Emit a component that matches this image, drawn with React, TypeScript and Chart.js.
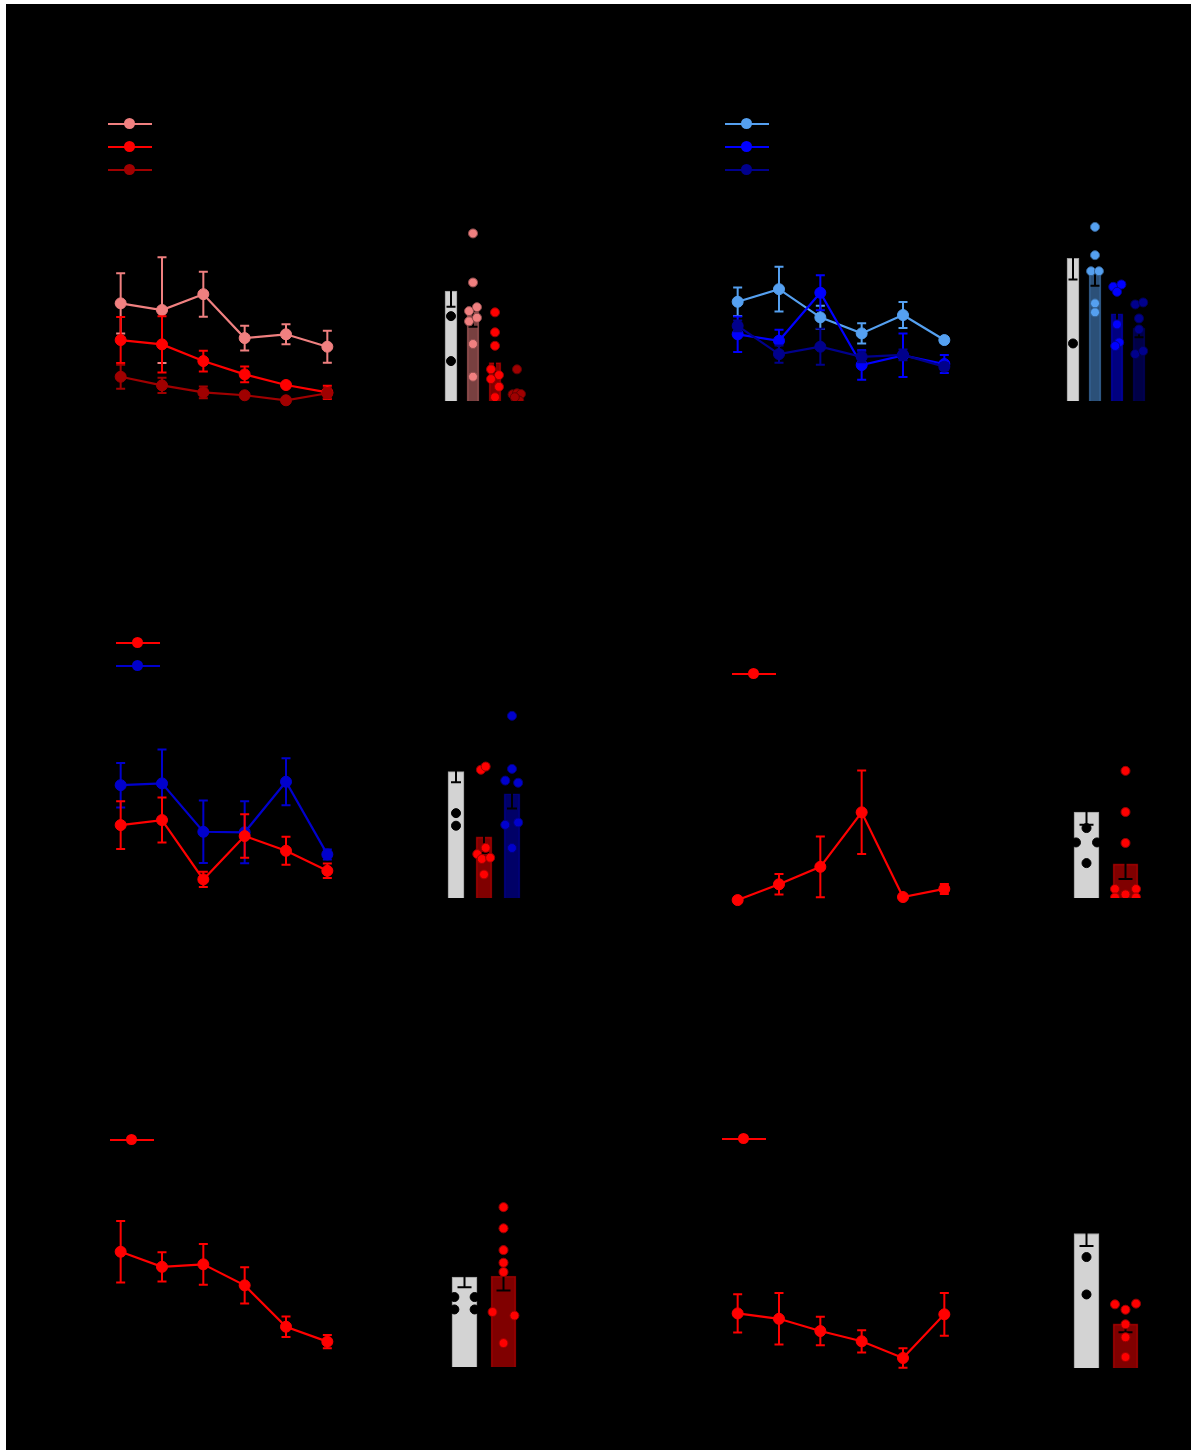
import React, { useEffect, useRef } from "react";
import { Chart, registerables } from "chart.js";

Chart.register(...registerables);

const FONT = "'Liberation Sans', Arial, sans-serif";

// ---------------- shared tick labels ----------------
const timeLabels = ["1", "2", "3", "4", "5", "6"];
const yTicks = [0, 20, 40, 60, 80, 100];

// ---------------- Panel A (reds) ----------------
const aLegend = ["Dose 1", "Dose 2", "Dose 3"];
const aPinkLine = [59.3, 55.6, 64.4, 40.0, 42.1, 35.2];
const aPinkSem = [16.7, 29.4, 12.5, 6.9, 5.6, 8.9];
const aRedLine = [38.9, 36.5, 27.2, 19.8, 13.9, 9.8];
const aRedSem = [12.8, 15.6, 5.8, 4.4, 1.1, 3.7];
const aDarkLine = [18.5, 13.7, 9.8, 8.2, 5.4, 9.3];
const aDarkSem = [6.7, 4.2, 3.3, 1.0, 1.0, 2.8];
const aBarLabels = ["Ctrl", "D1", "D2", "D3"];
const aBarMeans = [61.1, 49.6, 21.3, 5.3];
const aBarSem = [8.7, 8.3, 5.6, 2.5];
const aCtrlPts = [47.2, 22.2];
const aCtrlJit = [0, 0];
const aPinkPts = [93.2, 65.9, 50.0, 52.2, 44.3, 46.3, 31.7, 13.5];
const aPinkJit = [0, 0, -0.18, 0.18, -0.18, 0.18, 0, 0];
const aRedPts = [49.3, 38.2, 30.7, 17.6, 14.4, 12.2, 7.9, 2.1];
const aRedJit = [0, 0, 0, -0.18, 0.18, -0.18, 0.18, 0];
const aDarkPts = [17.6, 3.7, 4.3, 3.9, 0.2, 2.1];
const aDarkJit = [0, -0.2, 0, 0.18, 0.1, -0.1];

// ---------------- Panel B (blues) ----------------
const bLegend = ["Dose 1", "Dose 2", "Dose 3"];
const bLightLine = [60.2, 67.2, 51.5, 42.6, 52.8, 38.9];
const bLightSem = [7.9, 12.4, 6.5, 5.6, 7.2, 1.7];
const bBlueLine = [42.1, 38.5, 65.2, 25.0, 30.4, 25.6];
const bBlueSem = [9.9, 6.1, 9.7, 8.2, 12.1, 5.0];
const bNavyLine = [46.8, 31.1, 35.2, 29.6, 30.6, 24.1];
const bNavySem = [3.0, 4.8, 10.0, 3.0, 3.0, 2.0];
const bBarLabels = ["Ctrl", "D1", "D2", "D3"];
const bBarMeans = [79.3, 71.2, 48.5, 40.5];
const bBarSem = [11.7, 7.1, 6.1, 5.0];
const bCtrlPts = [32.0];
const bCtrlJit = [0];
const bLightPts = [96.8, 81.1, 72.2, 72.2, 54.3, 49.3];
const bLightJit = [0, 0, -0.18, 0.18, 0, 0];
const bBluePts = [63.5, 64.8, 60.7, 42.6, 32.6, 30.6];
const bBlueJit = [-0.17, 0.2, 0, 0, 0.1, -0.08];
const bNavyPts = [53.7, 54.8, 45.9, 39.8, 26.1, 27.8];
const bNavyJit = [-0.17, 0.19, 0, 0, -0.17, 0.19];

// ---------------- Panel C (red vs blue) ----------------
const cLegend = ["Treatment 1", "Treatment 2"];
const cRedLine = [46.1, 48.9, 15.9, 40.0, 31.8, 20.7];
const cRedSem = [13.3, 12.5, 4.2, 12.1, 7.8, 4.0];
const cBlueLine = [68.3, 69.3, 42.4, 42.1, 70.2, 29.8];
const cBlueSem = [12.4, 18.9, 17.4, 17.2, 13.1, 2.8];
const cBarLabels = ["Ctrl", "T1", "T2"];
const cBarMeans = [70.3, 34.0, 58.0];
const cBarSem = [5.9, 9.0, 8.2];
const cCtrlPts = [47.2, 40.2];
const cCtrlJit = [0, 0];
const cRedPts = [71.3, 73.1, 24.4, 27.9, 21.7, 22.4, 13.1];
const cRedJit = [-0.11, 0.06, -0.24, 0.06, -0.08, 0.22, 0];
const cBluePts = [101.3, 71.8, 65.3, 64.1, 40.7, 42.0, 27.8];
const cBlueJit = [0, 0, -0.24, 0.22, -0.24, 0.22, 0];

// ---------------- Panel D ----------------
const dLegend = ["Treatment"];
const dRedLine = [4.4, 13.2, 22.9, 53.2, 6.1, 10.6];
const dRedSem = [1.0, 5.7, 16.9, 23.2, 1.0, 2.8];
const dBarLabels = ["Ctrl", "T"];
const dBarMeans = [47.8, 19.0];
const dBarSem = [7.0, 8.5];
const dCtrlPts = [38.9, 30.9, 30.9, 19.4];
const dCtrlJit = [0, -0.27, 0.27, 0];
const dRedPts = [70.7, 47.8, 30.6, 5.0, 5.0, 2.0, 0.3, 0.3];
const dRedJit = [0, 0, 0, -0.27, 0.27, 0, -0.27, 0.27];

// ---------------- Panel E ----------------
const eLegend = ["Treatment"];
const eRedLine = [69.1, 60.7, 62.1, 50.4, 27.4, 19.1];
const eRedSem = [17.1, 8.1, 11.3, 10.1, 5.7, 3.7];
const eBarLabels = ["Ctrl", "T"];
const eBarMeans = [50.0, 50.6];
const eBarSem = [5.6, 8.0];
const eCtrlPts = [38.9, 38.9, 32.0, 32.0];
const eCtrlJit = [-0.26, 0.26, -0.26, 0.26];
const eRedPts = [88.9, 77.1, 65.0, 58.0, 52.8, 30.6, 28.6, 13.3];
const eRedJit = [0, 0, 0, 0, 0, -0.28, 0.28, 0];

// ---------------- Panel F ----------------
const fLegend = ["Treatment"];
const fRedLine = [34.8, 31.8, 25.0, 19.3, 10.0, 34.3];
const fRedSem = [10.6, 14.3, 7.9, 6.2, 5.4, 11.9];
const fBarLabels = ["Ctrl", "T"];
const fBarMeans = [74.8, 24.5];
const fBarSem = [7.0, 4.6];
const fCtrlPts = [61.7, 40.9];
const fCtrlJit = [0, 0];
const fRedPts = [35.4, 35.8, 32.4, 24.3, 17.1, 6.1];
const fRedJit = [-0.27, 0.27, 0, 0, 0, 0];

// ---------------- colours ----------------
const PINK = "#f08080";
const RED = "#ff0000";
const DARKRED = "#a00000";
const LIGHTBLUE = "#55a0f0";
const BLUE = "#0000ff";
const NAVY = "#00008c";
const MBLUE = "#0000cd";
const GRAY = "#d3d3d3";
const half = (hex: string) => {
  const n = parseInt(hex.slice(1), 16);
  return `rgba(${(n >> 16) & 255},${(n >> 8) & 255},${n & 255},0.5)`;
};
const shade = (hex: string, f: number) => {
  const n = parseInt(hex.slice(1), 16);
  return `rgb(${Math.round(((n >> 16) & 255) * f)},${Math.round(((n >> 8) & 255) * f)},${Math.round((n & 255) * f)})`;
};

// ---------------- layout constants ----------------
const YW = 50;
const XH = 40;
const PT = 10;
const PR = 10;
const PLOT_H = 198; // 0..110
const Y_MAX = 110;

// ---------------- error bar plugin ----------------
function drawErrorBars(chart: any, index: number) {
  const ds = chart.data.datasets[index];
  const err: number[] = ds.errorBars;
  const xs = chart.scales.x;
  const ys = chart.scales.y;
  const ctx = chart.ctx;
  const cap = (ds.capWidth || 8) / 2;
  ctx.save();
  ctx.strokeStyle = ds.errorColor || "#000";
  ctx.lineWidth = ds.errorWidth || 2;
  ds.data.forEach((p: any, i: number) => {
    const e = err[i];
    if (e == null) return;
    const x = xs.getPixelForValue(p.x);
    const y1 = ys.getPixelForValue(p.y + e);
    const y2 = ys.getPixelForValue(p.y - e);
    ctx.beginPath();
    ctx.moveTo(x, y1);
    ctx.lineTo(x, y2);
    ctx.moveTo(x - cap, y1);
    ctx.lineTo(x + cap, y1);
    ctx.moveTo(x - cap, y2);
    ctx.lineTo(x + cap, y2);
    ctx.stroke();
  });
  ctx.restore();
}

const errorBarPlugin = {
  id: "errorBars",
  beforeDatasetDraw(chart: any, args: any) {
    const ds = chart.data.datasets[args.index];
    if (ds.errorBars && ds.errorLayer !== "after") drawErrorBars(chart, args.index);
  },
  afterDatasetDraw(chart: any, args: any) {
    const ds = chart.data.datasets[args.index];
    if (ds.errorBars && ds.errorLayer === "after") drawErrorBars(chart, args.index);
  },
};

function baseOptions(labels: string[]) {
  return {
    responsive: false,
    animation: false,
    devicePixelRatio: 1,
    events: [],
    layout: { padding: { top: PT, right: PR, left: 0, bottom: 0 }, autoPadding: false },
    plugins: { legend: { display: false }, tooltip: { enabled: false }, title: { display: false } },
    scales: {
      x: {
        type: "linear",
        min: -0.5,
        max: labels.length - 0.5,
        offset: false,
        grid: { display: false, offset: false },
        border: { color: "#000", width: 1.5 },
        afterFit: (s: any) => {
          s.height = XH;
        },
        afterBuildTicks: (s: any) => {
          s.ticks = labels.map((_, i) => ({ value: i }));
        },
        ticks: {
          color: "#000",
          autoSkip: false,
          maxRotation: 0,
          font: { family: FONT, size: 12 },
          callback: (v: any) => labels[v] ?? "",
        },
      },
      y: {
        type: "linear",
        min: 0,
        max: Y_MAX,
        grid: { display: false },
        border: { color: "#000", width: 1.5 },
        afterFit: (s: any) => {
          s.width = YW;
        },
        afterBuildTicks: (s: any) => {
          s.ticks = yTicks.map((v) => ({ value: v }));
        },
        ticks: { color: "#000", font: { family: FONT, size: 12 } },
      },
    },
  };
}

type Series = { label: string; values: number[]; sem: number[]; color: string; order: number };

function makeLineConfig(series: Series[]) {
  return {
    type: "line",
    data: {
      datasets: series.map((s) => ({
        label: s.label,
        data: s.values.map((v, i) => ({ x: i, y: v })),
        errorBars: s.sem,
        errorColor: s.color,
        capWidth: 9,
        errorWidth: 2,
        borderColor: s.color,
        backgroundColor: s.color,
        pointBackgroundColor: s.color,
        pointBorderColor: s.color,
        pointRadius: 5.5,
        pointBorderWidth: 1,
        borderWidth: 2.2,
        tension: 0,
        order: s.order,
      })),
    },
    options: baseOptions(timeLabels),
    plugins: [errorBarPlugin],
  };
}

type Group = {
  label: string;
  mean: number;
  sem: number;
  fill: string;
  edge: string;
  points: number[];
  jitter: number[];
  pointColor: string;
  pointEdge: string;
};

function makeBarConfig(groups: Group[], labels: string[], barW: number, capW: number) {
  const datasets: any[] = [
    {
      type: "bar",
      label: "mean",
      data: groups.map((g, i) => ({ x: i, y: g.mean })),
      backgroundColor: groups.map((g) => g.fill),
      borderColor: groups.map((g) => g.edge),
      borderWidth: 1,
      barThickness: barW,
      errorBars: groups.map((g) => g.sem),
      errorColor: "#000",
      errorWidth: 2,
      capWidth: capW,
      errorLayer: "after",
      order: 2,
    },
  ];
  groups.forEach((g, i) => {
    datasets.push({
      type: "scatter",
      label: g.label,
      data: g.points.map((v, k) => ({ x: i + g.jitter[k], y: v })),
      pointRadius: 4.5,
      pointBackgroundColor: g.pointColor,
      pointBorderColor: g.pointEdge,
      pointBorderWidth: 1,
      order: 1,
    });
  });
  return {
    type: "bar",
    data: { datasets },
    options: baseOptions(labels),
    plugins: [errorBarPlugin],
  };
}

function ChartBox(props: { plotLeft: number; plotTop: number; plotW: number; config: any }) {
  const ref = useRef<HTMLCanvasElement>(null);
  const width = YW + props.plotW + PR;
  const height = PT + PLOT_H + XH;
  useEffect(() => {
    const chart = new Chart(ref.current as HTMLCanvasElement, props.config);
    return () => chart.destroy();
  }, []);
  return (
    <canvas
      ref={ref}
      width={width}
      height={height}
      style={{
        position: "absolute",
        left: props.plotLeft - YW,
        top: props.plotTop - PT,
        width,
        height,
      }}
    />
  );
}

function Legend(props: { x: number; ys: number[]; colors: string[]; labels: string[] }) {
  return (
    <>
      {props.labels.map((lab, i) => (
        <div key={i} style={{ position: "absolute", left: props.x, top: props.ys[i] - 10, height: 20, width: 200 }}>
          <div
            style={{
              position: "absolute",
              left: 0,
              top: 9,
              width: 44,
              height: 2,
              background: props.colors[i],
            }}
          />
          <div
            style={{
              position: "absolute",
              left: 16,
              top: 4,
              width: 11,
              height: 11,
              borderRadius: 6,
              background: props.colors[i],
            }}
          />
          <div
            style={{
              position: "absolute",
              left: 52,
              top: 2,
              fontFamily: FONT,
              fontSize: 13,
              color: "#000",
              whiteSpace: "nowrap",
            }}
          >
            {lab}
          </div>
        </div>
      ))}
    </>
  );
}

const ctrlGroup = (label: string, mean: number, sem: number, pts: number[], jit: number[]): Group => ({
  label,
  mean,
  sem,
  fill: GRAY,
  edge: "#9a9a9a",
  points: pts,
  jitter: jit,
  pointColor: "#000",
  pointEdge: "#000",
});
const colGroup = (label: string, mean: number, sem: number, pts: number[], jit: number[], color: string): Group => ({
  label,
  mean,
  sem,
  fill: half(color),
  edge: shade(color, 0.45),
  points: pts,
  jitter: jit,
  pointColor: color,
  pointEdge: shade(color, 0.6),
});

// ---------------- configs ----------------
const lineA = makeLineConfig([
  { label: aLegend[0], values: aPinkLine, sem: aPinkSem, color: PINK, order: 3 },
  { label: aLegend[1], values: aRedLine, sem: aRedSem, color: RED, order: 2 },
  { label: aLegend[2], values: aDarkLine, sem: aDarkSem, color: DARKRED, order: 1 },
]);
const barA = makeBarConfig(
  [
    ctrlGroup(aBarLabels[0], aBarMeans[0], aBarSem[0], aCtrlPts, aCtrlJit),
    colGroup(aBarLabels[1], aBarMeans[1], aBarSem[1], aPinkPts, aPinkJit, PINK),
    colGroup(aBarLabels[2], aBarMeans[2], aBarSem[2], aRedPts, aRedJit, RED),
    colGroup(aBarLabels[3], aBarMeans[3], aBarSem[3], aDarkPts, aDarkJit, DARKRED),
  ],
  aBarLabels,
  12,
  9
);

const lineB = makeLineConfig([
  { label: bLegend[0], values: bLightLine, sem: bLightSem, color: LIGHTBLUE, order: 3 },
  { label: bLegend[1], values: bBlueLine, sem: bBlueSem, color: BLUE, order: 2 },
  { label: bLegend[2], values: bNavyLine, sem: bNavySem, color: NAVY, order: 1 },
]);
const barB = makeBarConfig(
  [
    ctrlGroup(bBarLabels[0], bBarMeans[0], bBarSem[0], bCtrlPts, bCtrlJit),
    colGroup(bBarLabels[1], bBarMeans[1], bBarSem[1], bLightPts, bLightJit, LIGHTBLUE),
    colGroup(bBarLabels[2], bBarMeans[2], bBarSem[2], bBluePts, bBlueJit, BLUE),
    colGroup(bBarLabels[3], bBarMeans[3], bBarSem[3], bNavyPts, bNavyJit, NAVY),
  ],
  bBarLabels,
  12,
  9
);

const lineC = makeLineConfig([
  { label: cLegend[0], values: cRedLine, sem: cRedSem, color: RED, order: 1 },
  { label: cLegend[1], values: cBlueLine, sem: cBlueSem, color: MBLUE, order: 2 },
]);
const barC = makeBarConfig(
  [
    ctrlGroup(cBarLabels[0], cBarMeans[0], cBarSem[0], cCtrlPts, cCtrlJit),
    colGroup(cBarLabels[1], cBarMeans[1], cBarSem[1], cRedPts, cRedJit, RED),
    colGroup(cBarLabels[2], cBarMeans[2], cBarSem[2], cBluePts, cBlueJit, MBLUE),
  ],
  cBarLabels,
  16,
  10
);

const lineD = makeLineConfig([{ label: dLegend[0], values: dRedLine, sem: dRedSem, color: RED, order: 1 }]);
const barD = makeBarConfig(
  [
    ctrlGroup(dBarLabels[0], dBarMeans[0], dBarSem[0], dCtrlPts, dCtrlJit),
    colGroup(dBarLabels[1], dBarMeans[1], dBarSem[1], dRedPts, dRedJit, RED),
  ],
  dBarLabels,
  25,
  14
);

const lineE = makeLineConfig([{ label: eLegend[0], values: eRedLine, sem: eRedSem, color: RED, order: 1 }]);
const barE = makeBarConfig(
  [
    ctrlGroup(eBarLabels[0], eBarMeans[0], eBarSem[0], eCtrlPts, eCtrlJit),
    colGroup(eBarLabels[1], eBarMeans[1], eBarSem[1], eRedPts, eRedJit, RED),
  ],
  eBarLabels,
  25,
  14
);

const lineF = makeLineConfig([{ label: fLegend[0], values: fRedLine, sem: fRedSem, color: RED, order: 1 }]);
const barF = makeBarConfig(
  [
    ctrlGroup(fBarLabels[0], fBarMeans[0], fBarSem[0], fCtrlPts, fCtrlJit),
    colGroup(fBarLabels[1], fBarMeans[1], fBarSem[1], fRedPts, fRedJit, RED),
  ],
  fBarLabels,
  25,
  14
);

const panelLetter = (t: string, x: number, y: number) => (
  <div
    style={{
      position: "absolute",
      left: x,
      top: y,
      fontFamily: FONT,
      fontWeight: "bold",
      fontSize: 22,
      color: "#000",
    }}
  >
    {t}
  </div>
);

export default function App() {
  return (
    <div style={{ position: "absolute", left: 0, top: 0, width: 1191, height: 1450, background: "#fff", overflow: "hidden" }}>
      <div style={{ position: "absolute", left: 6, top: 4, width: 1185, height: 1446, background: "#000" }} />

      {panelLetter("A", 30, 40)}
      {panelLetter("B", 650, 40)}
      {panelLetter("C", 30, 560)}
      {panelLetter("D", 650, 560)}
      {panelLetter("E", 30, 1060)}
      {panelLetter("F", 650, 1060)}

      <Legend x={108} ys={[124, 147, 170]} colors={[PINK, RED, DARKRED]} labels={aLegend} />
      <Legend x={725} ys={[124, 147, 170]} colors={[LIGHTBLUE, BLUE, NAVY]} labels={bLegend} />
      <Legend x={116} ys={[643, 666]} colors={[RED, MBLUE]} labels={cLegend} />
      <Legend x={732} ys={[674]} colors={[RED]} labels={dLegend} />
      <Legend x={110} ys={[1140]} colors={[RED]} labels={eLegend} />
      <Legend x={722} ys={[1139]} colors={[RED]} labels={fLegend} />

      <ChartBox plotLeft={100} plotTop={410 - PLOT_H} plotW={248} config={lineA} />
      <ChartBox plotLeft={440} plotTop={401 - PLOT_H} plotW={88} config={barA} />
      <ChartBox plotLeft={717} plotTop={410 - PLOT_H} plotW={248} config={lineB} />
      <ChartBox plotLeft={1062} plotTop={401 - PLOT_H} plotW={88} config={barB} />

      <ChartBox plotLeft={100} plotTop={908 - PLOT_H} plotW={248} config={lineC} />
      <ChartBox plotLeft={442} plotTop={898 - PLOT_H} plotW={84} config={barC} />
      <ChartBox plotLeft={717} plotTop={908 - PLOT_H} plotW={248} config={lineD} />
      <ChartBox plotLeft={1067} plotTop={898 - PLOT_H} plotW={78} config={barD} />

      <ChartBox plotLeft={100} plotTop={1376 - PLOT_H} plotW={248} config={lineE} />
      <ChartBox plotLeft={445} plotTop={1367 - PLOT_H} plotW={78} config={barE} />
      <ChartBox plotLeft={717} plotTop={1376 - PLOT_H} plotW={248} config={lineF} />
      <ChartBox plotLeft={1067} plotTop={1368 - PLOT_H} plotW={78} config={barF} />
    </div>
  );
}
